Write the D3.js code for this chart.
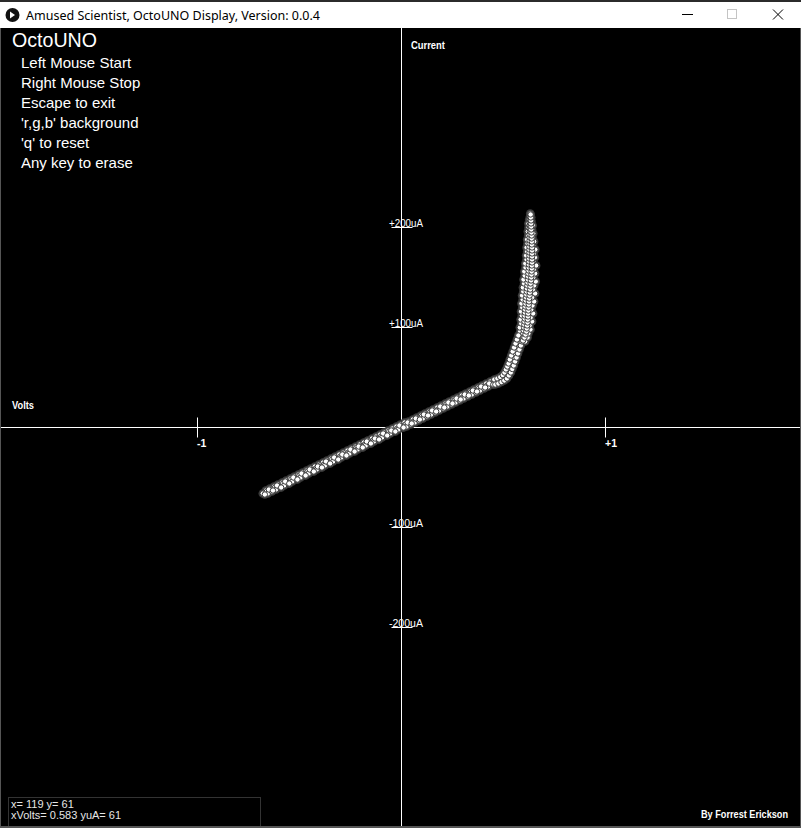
<!DOCTYPE html>
<html>
<head>
<meta charset="utf-8">
<script src="https://cdn.jsdelivr.net/npm/d3@7"></script>
<style>
  html, body { margin: 0; padding: 0; background: #000; }
  svg { display: block; }
  text { font-family: "Liberation Sans", Arial, sans-serif; }
</style>
</head>
<body>
<script>
// ---------- data ----------
const titleText = "Amused Scientist, OctoUNO Display, Version: 0.0.4";
const menuTitle = "OctoUNO";
const menuLines = ["Left Mouse Start", "Right Mouse Stop", "Escape to exit", "'r,g,b' background", "'q' to reset", "Any key to erase"];
const voltTicks = [-1, 1];
const voltTickLabels = ["-1", "+1"];
const currentTicks = [200, 100, -100, -200];
const currentTickLabels = ["+200uA", "+100uA", "-100uA", "-200uA"];
const statusLines = ["x= 119 y= 61", "xVolts= 0.583 yuA= 61"];
const credit = "By Forrest Erickson";

// sweep samples: [volts, microamps]
const sweepLowA = [[-0.68,-66],[-0.66,-64],[-0.64,-62],[-0.62,-60],[-0.60,-59],[-0.58,-56],[-0.56,-55],[-0.54,-52],[-0.52,-51],[-0.50,-48],[-0.48,-47],[-0.46,-44],[-0.44,-43],[-0.42,-41],[-0.40,-38],[-0.38,-37],[-0.36,-35],[-0.34,-32],[-0.32,-31],[-0.30,-29],[-0.28,-26],[-0.26,-25],[-0.24,-23],[-0.22,-20],[-0.20,-19],[-0.18,-17],[-0.16,-14],[-0.14,-13],[-0.12,-11],[-0.10,-9],[-0.08,-7],[-0.06,-4],[-0.04,-3],[-0.02,-1],[0.00,1],[0.02,3],[0.04,5],[0.06,6],[0.08,9],[0.10,11],[0.12,12],[0.14,15],[0.16,17],[0.18,18],[0.20,21],[0.22,23],[0.24,24],[0.26,27],[0.28,29],[0.30,30],[0.32,33],[0.34,35],[0.36,36],[0.38,39],[0.40,40],[0.42,42],[0.44,44]];
const sweepLowB = [[-0.67,-67],[-0.65,-62],[-0.63,-63],[-0.61,-58],[-0.59,-60],[-0.57,-54],[-0.55,-56],[-0.53,-50],[-0.51,-52],[-0.49,-46],[-0.47,-48],[-0.45,-42],[-0.43,-44],[-0.41,-39],[-0.39,-40],[-0.37,-34],[-0.35,-36],[-0.33,-30],[-0.31,-32],[-0.29,-27],[-0.27,-28],[-0.25,-22],[-0.23,-24],[-0.21,-19],[-0.19,-20],[-0.17,-14],[-0.15,-16],[-0.13,-11],[-0.11,-12],[-0.09,-6],[-0.07,-8],[-0.05,-3],[-0.03,-4],[-0.01,2],[0.01,0],[0.03,5],[0.05,4],[0.07,9],[0.09,8],[0.11,13],[0.13,12],[0.15,17],[0.17,16],[0.19,21],[0.21,20],[0.23,25],[0.25,24],[0.27,29],[0.29,28],[0.31,33],[0.33,32],[0.35,37],[0.37,36],[0.39,41],[0.41,40],[0.43,44],[0.45,43]];
const sweepLowC = [[-0.665,-63],[-0.645,-61],[-0.625,-59],[-0.605,-57],[-0.585,-55],[-0.565,-53],[-0.545,-51],[-0.525,-49],[-0.505,-47],[-0.485,-45],[-0.465,-43],[-0.445,-41],[-0.425,-39],[-0.405,-37],[-0.385,-35],[-0.365,-33],[-0.345,-31],[-0.325,-29],[-0.305,-27],[-0.285,-25],[-0.265,-23],[-0.245,-21],[-0.225,-19],[-0.205,-17],[-0.185,-15],[-0.165,-13],[-0.145,-11],[-0.125,-9],[-0.105,-7],[-0.085,-5],[-0.065,-3],[-0.045,-1],[-0.025,1],[-0.005,3],[0.015,5],[0.035,6],[0.055,8],[0.075,10],[0.095,12],[0.115,14],[0.135,16],[0.155,18],[0.175,20],[0.195,22],[0.215,24],[0.235,26],[0.255,28],[0.275,30],[0.295,32],[0.315,34],[0.335,36],[0.355,38],[0.375,40],[0.395,42],[0.415,44],[0.435,46],[0.455,47]];
const sweepLowD = [[-0.655,-66],[-0.635,-64],[-0.615,-62],[-0.595,-60],[-0.575,-58],[-0.555,-56],[-0.535,-54],[-0.515,-52],[-0.495,-50],[-0.475,-48],[-0.455,-46],[-0.435,-44],[-0.415,-42],[-0.395,-40],[-0.375,-38],[-0.355,-36],[-0.335,-34],[-0.315,-32],[-0.295,-30],[-0.275,-28],[-0.255,-26],[-0.235,-24],[-0.215,-22],[-0.195,-20],[-0.175,-18],[-0.155,-16],[-0.135,-14],[-0.115,-12],[-0.095,-10],[-0.075,-8],[-0.055,-6],[-0.035,-4],[-0.015,-2],[0.005,0],[0.025,1],[0.045,3],[0.065,5],[0.085,7],[0.105,9],[0.125,11],[0.145,13],[0.165,15],[0.185,17],[0.205,19],[0.225,21],[0.245,23],[0.265,25],[0.285,27],[0.305,29],[0.325,31],[0.345,33],[0.365,35],[0.385,37],[0.405,39],[0.425,41],[0.445,43]];
const sweepKneeA = [[0.45,45],[0.465,46],[0.48,47.5],[0.494,49],[0.505,51],[0.515,53.5],[0.523,56.5],[0.530,59.5],[0.537,63],[0.544,66.5],[0.551,70],[0.558,74],[0.565,77],[0.572,81],[0.579,85],[0.586,89],[0.592,92]];
const sweepKneeB = [[0.455,48],[0.47,49],[0.484,50.5],[0.496,52.5],[0.505,55],[0.512,58],[0.519,61],[0.525,64],[0.531,68],[0.538,72],[0.545,76],[0.552,80],[0.559,84],[0.566,88],[0.573,92]];
const sweepKneeC = [[0.46,43],[0.475,44],[0.49,45.5],[0.504,47],[0.517,49],[0.527,52],[0.536,55],[0.543,58.5],[0.550,62],[0.557,66],[0.564,70],[0.571,74],[0.578,78],[0.585,82],[0.592,86],[0.598,90]];
const sweepHighL = [[0.568,84],[0.575,88],[0.576,92],[0.582,96],[0.580,100],[0.587,104],[0.584,108],[0.590,112],[0.586,116],[0.592,120],[0.588,124],[0.594,128],[0.591,132],[0.597,136],[0.595,140],[0.601,144],[0.598,148],[0.604,152],[0.602,156],[0.608,160],[0.607,164],[0.613,168],[0.611,172],[0.616,176],[0.613,180],[0.618,184],[0.616,188],[0.621,192],[0.619,196],[0.623,200],[0.622,204],[0.626,208]];
const sweepHighR = [[0.606,86],[0.618,90],[0.622,94],[0.632,98],[0.628,102],[0.640,106],[0.633,110],[0.645,114],[0.636,118],[0.642,122],[0.650,126],[0.640,130],[0.655,134],[0.644,138],[0.650,142],[0.658,146],[0.646,150],[0.655,154],[0.648,158],[0.660,162],[0.646,166],[0.654,170],[0.648,174],[0.656,178],[0.645,182],[0.650,186],[0.642,190],[0.646,194],[0.640,198],[0.643,202],[0.637,206],[0.636,210]];
const sweepHighA = [[0.584,85],[0.591,88],[0.594,91],[0.597,94],[0.599,97],[0.601,100],[0.602,103],[0.603,106],[0.604,109],[0.604,112],[0.605,115],[0.606,118],[0.607,121],[0.608,124],[0.609,127],[0.611,130],[0.612,133],[0.614,136],[0.615,139],[0.617,142],[0.618,145],[0.620,148],[0.621,151],[0.622,154],[0.623,157],[0.624,160],[0.625,163],[0.626,166],[0.626,169],[0.627,172],[0.627,175],[0.627,178],[0.627,181],[0.628,184],[0.628,187],[0.628,190],[0.628,193],[0.629,196],[0.629,199],[0.629,202],[0.629,205],[0.630,208],[0.630,211],[0.631,214]];
const sweepHighB = [[0.596,87],[0.603,90],[0.608,93],[0.612,96],[0.614,99],[0.616,102],[0.618,105],[0.619,108],[0.620,111],[0.621,114],[0.622,117],[0.623,120],[0.624,123],[0.625,126],[0.626,129],[0.628,132],[0.629,135],[0.631,138],[0.632,141],[0.633,144],[0.635,147],[0.636,150],[0.637,153],[0.638,156],[0.639,159],[0.639,162],[0.640,165],[0.640,168],[0.640,171],[0.640,174],[0.640,177],[0.640,180],[0.639,183],[0.639,186],[0.638,189],[0.638,192],[0.637,195],[0.636,198],[0.636,201],[0.635,204],[0.635,207],[0.634,210],[0.633,213]];

const samples = [].concat(sweepLowC, sweepLowA, sweepKneeA, sweepHighL, sweepHighA,
                          sweepLowD, sweepLowB, sweepKneeB, sweepKneeC, sweepHighR, sweepHighB);

// ---------- drawing ----------
const W = 801, H = 828;
const svg = d3.select("body").append("svg").attr("width", W).attr("height", H);

// window chrome
svg.append("rect").attr("x", 0).attr("y", 0).attr("width", W).attr("height", H).attr("fill", "#555");
svg.append("rect").attr("x", 0).attr("y", 0).attr("width", W).attr("height", 2).attr("fill", "#2b2b2b");
svg.append("rect").attr("x", 0).attr("y", 2).attr("width", W).attr("height", 26).attr("fill", "#fff");
svg.append("rect").attr("x", 1).attr("y", 28).attr("width", W - 2).attr("height", H - 30).attr("fill", "#000");

svg.append("circle").attr("cx", 12.5).attr("cy", 15).attr("r", 7).attr("fill", "#111");
svg.append("path").attr("d", "M10,11.5 L15,15 L10,18.5 Z").attr("fill", "#fff");
svg.append("text").attr("x", 26).attr("y", 19.5).attr("font-size", 12.5)
  .style("font-family", "'Noto Sans', 'Open Sans', sans-serif").attr("fill", "#000").text(titleText);
svg.append("line").attr("x1", 682).attr("x2", 693).attr("y1", 14.5).attr("y2", 14.5).attr("stroke", "#000");
svg.append("rect").attr("x", 727.5).attr("y", 9.5).attr("width", 9).attr("height", 9).attr("fill", "none").attr("stroke", "#c4c4c4");
svg.append("path").attr("d", "M773,9.5 L783,19.5 M783,9.5 L773,19.5").attr("stroke", "#000").attr("stroke-width", 1);

// scales
const x = d3.scaleLinear().domain([-1, 1]).range([197.5, 605.5]);
const y = d3.scaleLinear().domain([-100, 100]).range([527.5, 327.5]);
const x0 = x(0), y0 = y(0);

const g = svg.append("g");

// axes
g.append("line").attr("x1", x0).attr("x2", x0).attr("y1", 28).attr("y2", 826)
  .attr("stroke", "#fff").attr("stroke-width", 1);
g.append("line").attr("x1", 1).attr("x2", 800).attr("y1", y0).attr("y2", y0)
  .attr("stroke", "#fff").attr("stroke-width", 1);

// volt ticks
voltTicks.forEach((v, i) => {
  g.append("line").attr("x1", x(v)).attr("x2", x(v)).attr("y1", y0 - 10).attr("y2", y0 + 10)
    .attr("stroke", "#fff");
  g.append("text").attr("x", x(v) - 0.5).attr("y", 447).attr("font-size", 10.5).attr("font-weight", "bold")
    .attr("fill", "#fff").text(voltTickLabels[i]);
});
// current ticks
currentTicks.forEach((c, i) => {
  g.append("line").attr("x1", x0 - 10).attr("x2", x0 + 11).attr("y1", y(c)).attr("y2", y(c))
    .attr("stroke", "#fff");
  g.append("text").attr("x", 389).attr("y", y(c) - 0.5).attr("font-size", 10)
    .attr("textLength", 34).attr("lengthAdjust", "spacingAndGlyphs")
    .attr("fill", "#fff").text(currentTickLabels[i]);
});

// axis titles
g.append("text").attr("x", 411).attr("y", 48.5).attr("font-size", 10).attr("font-weight", "bold")
  .attr("textLength", 34).attr("lengthAdjust", "spacingAndGlyphs").attr("fill", "#fff").text("Current");
g.append("text").attr("x", 12).attr("y", 408.5).attr("font-size", 10).attr("font-weight", "bold")
  .attr("textLength", 22).attr("lengthAdjust", "spacingAndGlyphs").attr("fill", "#fff").text("Volts");

// menu
g.append("text").attr("x", 12).attr("y", 47).attr("font-size", 19.5).attr("fill", "#fff")
  .attr("textLength", 85).attr("lengthAdjust", "spacingAndGlyphs").text(menuTitle);
g.selectAll("text.menu").data(menuLines).join("text").attr("class", "menu")
  .attr("x", 21).attr("y", (d, i) => 68 + i * 20).attr("font-size", 15).attr("fill", "#fff").text(d => d);

// samples: grey halo layer, then white dots
const marks = g.append("g");
marks.append("g").selectAll("circle").data(samples).join("circle")
  .attr("cx", d => x(d[0])).attr("cy", d => y(d[1])).attr("r", 4.3)
  .attr("fill", "#3a3a3a");
marks.append("g").selectAll("circle").data(samples).join("circle")
  .attr("cx", d => x(d[0])).attr("cy", d => y(d[1])).attr("r", 2.7)
  .attr("fill", "#fff").attr("stroke", "#3a3a3a").attr("stroke-width", 1);

// status box
g.append("rect").attr("x", 8.5).attr("y", 797.5).attr("width", 252).attr("height", 40)
  .attr("fill", "#000").attr("stroke", "#333");
g.selectAll("text.status").data(statusLines).join("text").attr("class", "status")
  .attr("x", 11).attr("y", (d, i) => 808 + i * 10.5).attr("font-size", 11).attr("fill", "#e6e6e6").text(d => d);

// credit
g.append("text").attr("x", 701).attr("y", 818).attr("font-size", 10.5).attr("font-weight", "bold")
  .attr("textLength", 87).attr("lengthAdjust", "spacingAndGlyphs").attr("fill", "#fff").text(credit);

// bottom border
svg.append("rect").attr("x", 0).attr("y", 826).attr("width", W).attr("height", 2).attr("fill", "#555");
</script>
</body>
</html>
